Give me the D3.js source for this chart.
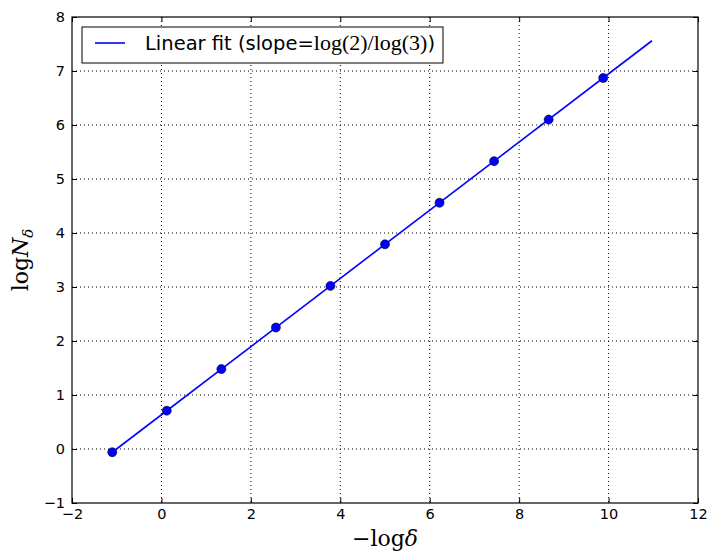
<!DOCTYPE html>
<html>
<head>
<meta charset="utf-8">
<script src="https://cdn.jsdelivr.net/npm/d3@7"></script>
<style>
body { margin: 0; background: white; }
</style>
</head>
<body>
<div class="chart"></div>
<script>
// data
const xVals = [-1.1, 0.12, 1.34, 2.56, 3.78, 5.0, 6.22, 7.44, 8.66, 9.88];
const yVals = [-0.06, 0.71, 1.48, 2.25, 3.02, 3.79, 4.56, 5.33, 6.10, 6.87];
const fitX = [-1.1, 10.97];
const fitY = [-0.06, 7.56];
const xTicks = [-2, 0, 2, 4, 6, 8, 10, 12];
const yTicks = [-1, 0, 1, 2, 3, 4, 5, 6, 7, 8];

let margin = { top: 17, right: 11, bottom: 49, left: 72 },
  width = 709 - margin.left - margin.right,
  height = 552 - margin.top - margin.bottom;

let svg = d3.select(".chart")
  .append("svg")
  .attr("width", 709)
  .attr("height", 552)
  .append("g")
  .attr("transform", "translate(" + margin.left + "," + margin.top + ")");

const x = d3.scaleLinear().domain([-2, 12]).range([0, width]);
const y = d3.scaleLinear().domain([-1, 8]).range([height, 0]);

// grid
svg.append("g").selectAll("line")
  .data(xTicks.slice(1, -1))
  .join("line")
  .attr("x1", d => x(d)).attr("x2", d => x(d))
  .attr("y1", 0).attr("y2", height)
  .attr("stroke", "black").attr("stroke-width", 1)
  .attr("stroke-dasharray", "1,3");
svg.append("g").selectAll("line")
  .data(yTicks.slice(1, -1))
  .join("line")
  .attr("y1", d => y(d)).attr("y2", d => y(d))
  .attr("x1", 0).attr("x2", width)
  .attr("stroke", "black").attr("stroke-width", 1)
  .attr("stroke-dasharray", "1,3");

// axes with inner ticks
const fmt = d => d < 0 ? "\u2212" + Math.abs(d) : d;
const tickStyle = g => {
  g.select(".domain").remove();
  g.selectAll("text").attr("font-family", "DejaVu Sans").attr("font-size", 14.5).attr("fill", "black");
  g.selectAll("line").attr("stroke", "black");
};
svg.append("g").attr("transform", "translate(0," + height + ")")
  .call(d3.axisBottom(x).tickValues(xTicks).tickFormat(fmt).tickSizeInner(-5).tickPadding(6))
  .call(tickStyle);
svg.append("g")
  .call(d3.axisTop(x).tickValues(xTicks).tickFormat("").tickSizeInner(-5))
  .call(tickStyle);
svg.append("g")
  .call(d3.axisLeft(y).tickValues(yTicks).tickFormat(fmt).tickSizeInner(-5).tickPadding(7))
  .call(tickStyle);
svg.append("g").attr("transform", "translate(" + width + ",0)")
  .call(d3.axisRight(y).tickValues(yTicks).tickFormat("").tickSizeInner(-5))
  .call(tickStyle);

svg.append("rect")
  .attr("width", width).attr("height", height)
  .attr("fill", "none").attr("stroke", "black").attr("stroke-width", 1.2);

// fit line
const line = d3.line().x(d => x(d[0])).y(d => y(d[1]));
svg.append("path")
  .datum(d3.zip(fitX, fitY))
  .attr("d", line)
  .attr("fill", "none").attr("stroke", "#0000ff").attr("stroke-width", 1.6);

svg.selectAll("circle")
  .data(d3.zip(xVals, yVals))
  .join("circle")
  .attr("cx", d => x(d[0]))
  .attr("cy", d => y(d[1]))
  .attr("r", 4.5)
  .attr("fill", "#0000ff")
  .attr("stroke", "black").attr("stroke-width", 0.6);

// axis labels
svg.append("text")
  .attr("x", width / 2).attr("y", height + 43)
  .attr("text-anchor", "middle")
  .attr("font-family", "DejaVu Serif").attr("font-size", 22)
  .html('\u2212log<tspan font-style="italic">\u03b4</tspan>');

svg.append("text")
  .attr("transform", "translate(-44," + (height / 2) + ") rotate(-90)")
  .attr("text-anchor", "middle")
  .attr("font-family", "DejaVu Serif").attr("font-size", 22)
  .html('log<tspan font-style="italic">N</tspan><tspan font-style="italic" font-size="15" dy="5">\u03b4</tspan>');

// legend
const lg = svg.append("g").attr("transform", "translate(10,10)");
lg.append("rect")
  .attr("width", 361).attr("height", 36)
  .attr("fill", "white").attr("stroke", "black").attr("stroke-width", 1);
lg.append("line")
  .attr("x1", 13).attr("x2", 43).attr("y1", 16).attr("y2", 16)
  .attr("stroke", "#0000ff").attr("stroke-width", 1.6);
lg.append("text")
  .attr("x", 63).attr("y", 23)
  .attr("font-family", "DejaVu Sans").attr("font-size", 19.5)
  .html('Linear fit (slope=<tspan font-family="Liberation Serif" font-size="22">log(2)/log(3)</tspan>)');
</script>
</body>
</html>
